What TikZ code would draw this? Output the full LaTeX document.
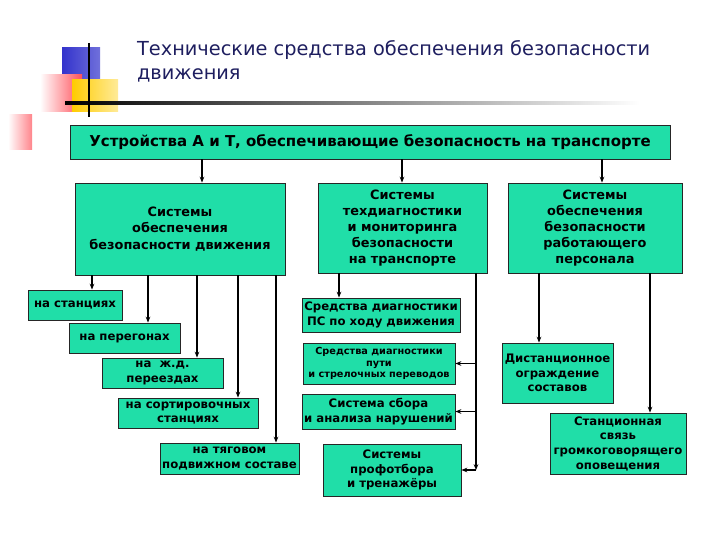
\documentclass[tikz,border=0pt]{standalone}
\usepackage{fontspec}
\setmainfont{DejaVu Sans}
\usetikzlibrary{arrows.meta}

\definecolor{boxgreen}{RGB}{32,222,168}
\definecolor{titleblue}{RGB}{30,30,95}
\definecolor{decoblue}{RGB}{51,51,204}
\definecolor{decoyellow}{RGB}{255,204,0}
\definecolor{decored}{RGB}{255,80,90}

\tikzset{
  blok/.style={draw=black!85, line width=0.8pt, fill=boxgreen, align=center,
    inner sep=0pt, font=\bfseries\fontsize{10}{12.5}\selectfont},
  bigblok/.style={blok, font=\bfseries\fontsize{11}{13.8}\selectfont},
  arr/.style={line width=1.3pt, -{Stealth[length=5pt,width=4pt]}},
  bus/.style={line width=1.3pt}
}

\begin{document}
\begin{tikzpicture}[x=0.03cm, y=-0.03cm]

\def\px{0.03cm};
\useasboundingbox (0,0) rectangle (720,540);

\shade[left color=decoblue, right color=decoblue!70] (62,48) rectangle (100,82);
\shade[left color=white, right color=decored] (40,75) rectangle (82,112);
\shade[left color=decoyellow, right color=decoyellow!40] (72,80) rectangle (118,112);
\shade[left color=white, right color=decored!70] (8,115) rectangle (32,150);
\shade[left color=black, right color=white] (65,102) rectangle (640,104.5);
\draw[line width=1.4pt] (89,43) -- (89,117);

\node[anchor=north west, align=left, text=titleblue,
      font=\fontsize{16.5}{21}\selectfont] (title) at (133,36)
  {Технические средства обеспечения безопасности\\движения};

\node[blok, font=\bfseries\fontsize{12.8}{14}\selectfont,
      minimum width=600*\px, minimum height=34*\px] (top) at (370,142)
  {Устройства А и Т, обеспечивающие безопасность на транспорте};

\node[bigblok, minimum width=210*\px, minimum height=92*\px] (b1) at (180,229)
  {Системы\\обеспечения\\безопасности движения};
\node[bigblok, minimum width=169*\px, minimum height=90*\px] (b2) at (402.5,228)
  {Системы\\техдиагностики\\и мониторинга\\безопасности\\на транспорте};
\node[bigblok, minimum width=174*\px, minimum height=90*\px] (b3) at (595,228)
  {Системы\\обеспечения\\безопасности\\работающего\\персонала};

\node[blok, minimum width=94*\px, minimum height=30*\px] (s1) at (75,305)
  {на станциях};
\node[blok, minimum width=111*\px, minimum height=30*\px] (s2) at (124.5,338)
  {на перегонах};
\node[blok, minimum width=121*\px, minimum height=30*\px] (s3) at (162.5,373)
  {на\ \ ж.д.\\переездах};
\node[blok, minimum width=140*\px, minimum height=30*\px] (s4) at (188,413)
  {на сортировочных\\станциях};
\node[blok, minimum width=139*\px, minimum height=31*\px] (s5) at (229.5,458.5)
  {на тяговом\\подвижном составе};

\node[blok, minimum width=158*\px, minimum height=34*\px] (p1) at (381,315)
  {Средства диагностики\\ПС по ходу движения};
\node[blok, font=\bfseries\fontsize{8.3}{10}\selectfont,
      minimum width=152*\px, minimum height=41*\px] (p2) at (379,363.5)
  {Средства диагностики\\пути\\и стрелочных переводов};
\node[blok, minimum width=153*\px, minimum height=35*\px] (p3) at (378.5,411.5)
  {Система сбора\\и анализа нарушений};
\node[blok, minimum width=138*\px, minimum height=52*\px] (p4) at (392,470)
  {Системы\\профотбора\\и тренажёры};

\node[blok, minimum width=111*\px, minimum height=60*\px] (r1) at (557.5,373)
  {Дистанционное\\ограждение\\составов};
\node[blok, minimum width=136*\px, minimum height=61*\px] (r2) at (618,443.5)
  {Станционная\\связь\\громкоговорящего\\оповещения};

\foreach \x/\t in {202/b1,402/b2,602/b3}{
       \draw[arr] (top.south -| \x,0) -- (\t.north -| \x,0);
}
\foreach \x/\t in {92/s1,148/s2,197/s3,238/s4,276/s5}{
       \draw[arr] (b1.south -| \x,0) -- (\t.north -| \x,0);
}
\draw[arr] (b2.south -| 339,0) -- (p1.north -| 339,0);
\coordinate (busx) at (476,0);
\draw[arr] (b2.south -| busx) -- (p4.east -| busx);
\foreach \t in {p2,p3,p4}{
       \draw[arr] (\t.east -| busx) -- (\t.east);
}
\foreach \x/\t in {539/r1,650/r2}{
       \draw[arr] (b3.south -| \x,0) -- (\t.north -| \x,0);
}

\end{tikzpicture}
\end{document}
